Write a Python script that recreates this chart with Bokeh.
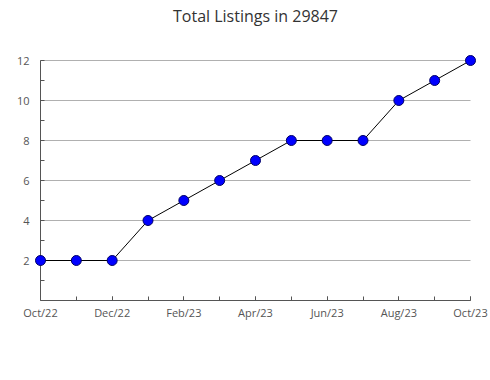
from bokeh.plotting import figure
from bokeh.models import FixedTicker, Range1d, ColumnDataSource, Label
from bokeh.embed import file_html
from bokeh.resources import INLINE

months = ["Oct/22", "Nov/22", "Dec/22", "Jan/23", "Feb/23", "Mar/23", "Apr/23",
          "May/23", "Jun/23", "Jul/23", "Aug/23", "Sep/23", "Oct/23"]
listings = [2, 2, 2, 4, 5, 6, 7, 8, 8, 8, 10, 11, 12]
y_ticks = [2, 4, 6, 8, 10, 12]
y_minor = [1, 3, 5, 7, 9, 11]
title_text = "Total Listings in 29847"

idx = list(range(len(months)))
n = len(months) - 1
y_max = 12
src = ColumnDataSource(dict(x=idx, y=listings, m=months))

FONT = "Open Sans"
W, H = 490, 380
LEFT, RIGHT, BOTTOM = 30, 10, 80
PAD_PX = 10
px_per_x = 430 / n
PAD_X = PAD_PX / px_per_x
px_per_y = 20
Y_TOP = (H - BOTTOM) / px_per_y   # frame spans the full top area
AXIS_COLOR = "#555555"

p = figure(width=W, height=H, output_backend="svg", toolbar_location=None,
           x_range=Range1d(-PAD_X, n + PAD_X), y_range=Range1d(0, Y_TOP),
           min_border_left=LEFT, min_border_right=RIGHT, min_border_top=0,
           min_border_bottom=BOTTOM)
p.outline_line_color = None

# title drawn as text in the top area
p.add_layout(Label(x=n / 2, y=Y_TOP - 15 / px_per_y, text=title_text,
                   text_align="center", text_baseline="middle", text_font=FONT,
                   text_font_size="16px", text_color="#333333"))

# horizontal grid lines over the data extent
p.segment(x0=[0] * len(y_ticks), x1=[n] * len(y_ticks), y0=y_ticks, y1=y_ticks,
          line_color="#b0b0b0", line_width=1)
# y axis line and inside ticks
p.segment(x0=[0], x1=[0], y0=[0], y1=[y_max], line_color=AXIS_COLOR, line_width=1)
all_y = y_ticks + y_minor
p.ray(x=[0] * len(all_y), y=all_y, length=4, length_units="screen", angle=0,
      line_color=AXIS_COLOR, line_width=1)

p.line("x", "y", source=src, line_color="black", line_width=1)
p.scatter("x", "y", source=src, size=10, fill_color="#0000ff", line_color="#000066", line_width=1)

p.xaxis.ticker = FixedTicker(ticks=idx[::2], minor_ticks=idx)
p.xaxis.major_label_overrides = {i: months[i] for i in idx[::2]}
p.xaxis.bounds = (0, n)
p.yaxis.ticker = FixedTicker(ticks=y_ticks)
p.yaxis.axis_line_color = None
p.yaxis.major_tick_line_color = None
p.yaxis.minor_tick_line_color = None
p.yaxis.major_tick_out = 0
p.yaxis.major_tick_in = 0
p.yaxis.major_label_standoff = 1

for ax in (p.xaxis[0], p.yaxis[0]):
    ax.major_label_text_font = FONT
    ax.major_label_text_font_size = "11px"
    ax.major_label_text_color = "#555555"

xa = p.xaxis[0]
xa.axis_line_color = AXIS_COLOR
xa.major_tick_line_color = AXIS_COLOR
xa.minor_tick_line_color = AXIS_COLOR
xa.major_tick_in = 4
xa.major_tick_out = 0
xa.minor_tick_in = 4
xa.minor_tick_out = 0
xa.major_label_standoff = 4

p.xgrid.grid_line_color = None
p.ygrid.grid_line_color = None

open("out.html", "w").write(file_html(p, INLINE))
